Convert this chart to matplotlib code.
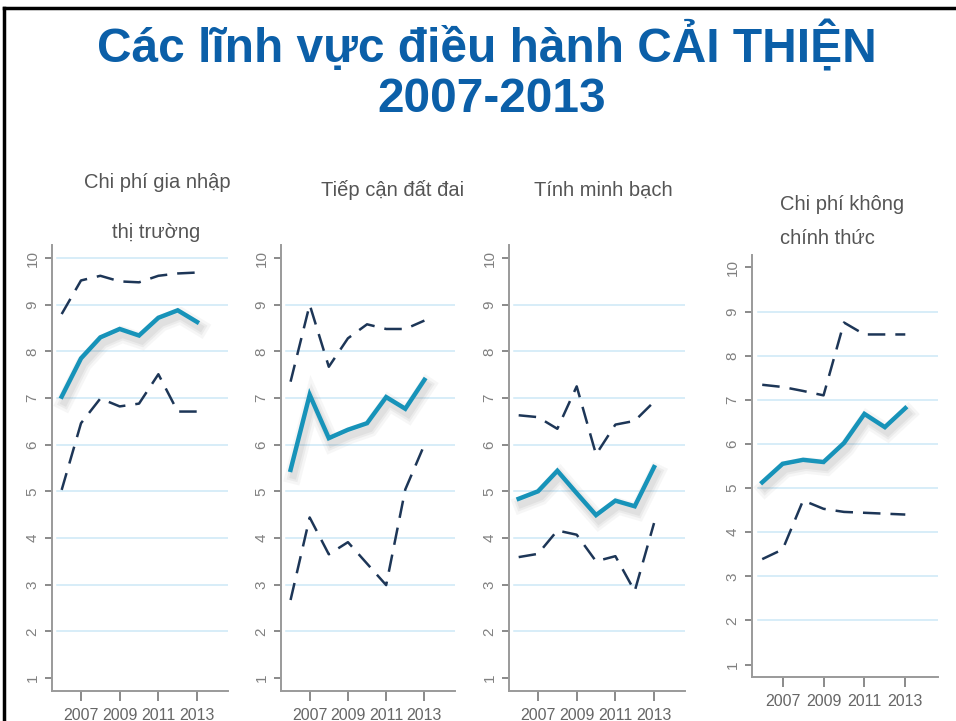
import matplotlib
matplotlib.use("Agg")
import matplotlib.pyplot as plt
import matplotlib.patheffects as pe
from matplotlib.lines import Line2D

years = [2006, 2007, 2008, 2009, 2010, 2011, 2012, 2013]
year_ticks = [2007, 2009, 2011, 2013]
y_ticks = [1, 2, 3, 4, 5, 6, 7, 8, 9, 10]

entry_upper = [8.80, 9.52, 9.62, 9.50, 9.48, 9.62, 9.67, 9.69]
entry_main = [7.03, 7.85, 8.30, 8.48, 8.34, 8.72, 8.88, 8.63]
entry_lower = [5.03, 6.46, 6.99, 6.82, 6.88, 7.51, 6.71, 6.71]

land_upper = [7.35, 9.00, 7.67, 8.28, 8.58, 8.48, 8.48, 8.66]
land_main = [5.46, 7.07, 6.14, 6.32, 6.46, 7.02, 6.77, 7.39]
land_lower = [2.67, 4.44, 3.65, 3.91, 3.45, 2.99, 5.04, 6.00]

trans_upper = [6.63, 6.59, 6.34, 7.25, 5.79, 6.43, 6.51, 6.92]
trans_main = [4.84, 5.00, 5.44, 4.96, 4.49, 4.80, 4.68, 5.52]
trans_lower = [3.59, 3.66, 4.16, 4.07, 3.50, 3.61, 2.86, 4.32]

informal_upper = [7.34, 7.29, 7.20, 7.10, 8.75, 8.48, 8.48, 8.48]
informal_main = [5.13, 5.55, 5.64, 5.59, 6.02, 6.68, 6.38, 6.81]
informal_lower = [3.39, 3.61, 4.72, 4.53, 4.46, 4.44, 4.42, 4.40]

title_line1 = "Các lĩnh vực điều hành CẢI THIỆN"
title_line2 = "2007-2013"

W, H = 956, 721
fig = plt.figure(figsize=(W / 100, H / 100), dpi=100)
fig.patch.set_facecolor("white")

NARROW = ["Liberation Sans Narrow", "Liberation Sans", "DejaVu Sans"]
TEAL = "#1793b9"
NAVY = "#1d3657"
GRID = "#cde8f6"
SPINE = "#9a9a9a"

def px(x, y):
    return x / W, 1 - y / H

panels = [
    dict(box=(52, 228, 245, 691), up=entry_upper, main=entry_main, lo=entry_lower, grid10=True),
    dict(box=(281, 455, 245, 691), up=land_upper, main=land_main, lo=land_lower, grid10=False),
    dict(box=(509, 685, 245, 691), up=trans_upper, main=trans_main, lo=trans_lower, grid10=False),
    dict(box=(752, 938, 255, 677), up=informal_upper, main=informal_main, lo=informal_lower, grid10=False),
]

shadow = [
    pe.SimpleLineShadow(offset=(2, -4), shadow_color="#606060", alpha=0.05, linewidth=12),
    pe.SimpleLineShadow(offset=(2, -4), shadow_color="#606060", alpha=0.07, linewidth=8),
    pe.SimpleLineShadow(offset=(2, -4), shadow_color="#606060", alpha=0.08, linewidth=5),
    pe.Normal(),
]

for p in panels:
    l, r, t, b = p["box"]
    ax = fig.add_axes([l / W, 1 - b / H, (r - l) / W, (b - t) / H])
    ax.set_xlim(2005.5, 2014.6)
    ax.set_ylim(0.72, 10.28)
    gl = [2, 3, 4, 5, 6, 7, 8, 9] + ([10] if p["grid10"] else [])
    for g in gl:
        ax.axhline(g, xmin=0.03, xmax=1.0, color=GRID, lw=1.1, zorder=0)
    ax.plot(years, p["up"], color=NAVY, lw=1.8, dashes=(7, 4), zorder=3)
    ax.plot(years, p["lo"], color=NAVY, lw=1.8, dashes=(7, 4), zorder=3)
    ax.plot(years, p["main"], color=TEAL, lw=3.2, solid_joinstyle="miter", zorder=4,
            path_effects=shadow)
    for s in ["top", "right"]:
        ax.spines[s].set_visible(False)
    for s in ["left", "bottom"]:
        ax.spines[s].set_color(SPINE)
        ax.spines[s].set_linewidth(1.4)
    ax.set_xticks(year_ticks)
    ax.set_xticklabels([str(y) for y in year_ticks], fontfamily=NARROW, fontsize=11.5, color="#666666")
    ax.set_yticks(y_ticks)
    ax.set_yticklabels([str(v) for v in y_ticks], fontfamily=NARROW, fontsize=11, color="#808080",
                       rotation=90, va="center")
    ax.tick_params(axis="x", length=7, width=1.2, color="#777777", pad=5)
    ax.tick_params(axis="y", length=5, width=1.2, color="#777777", pad=4)
    ax.set_facecolor("none")

tcol = "#555555"
fs = 14.5
fig.text(*px(157, 183), "Chi phí gia nhập", ha="center", va="center", fontsize=fs, color=tcol, family=NARROW)
fig.text(*px(156, 232), "thị trường", ha="center", va="center", fontsize=fs, color=tcol, family=NARROW)
fig.text(*px(393, 190), "Tiếp cận đất đai", ha="center", va="center", fontsize=fs, color=tcol, family=NARROW)
fig.text(*px(603, 190), "Tính minh bạch", ha="center", va="center", fontsize=fs, color=tcol, family=NARROW)
fig.text(*px(780, 205), "Chi phí không", ha="left", va="center", fontsize=fs, color=tcol, family=NARROW)
fig.text(*px(780, 238), "chính thức", ha="left", va="center", fontsize=fs, color=tcol, family=NARROW)

blue = "#0b5fa8"
fig.text(*px(487, 46), title_line1, ha="center", va="center", fontsize=34.5, fontweight="bold",
         color=blue, family=NARROW)
fig.text(*px(492, 100), title_line2, ha="center", va="center", fontsize=34.5, fontweight="bold",
         color=blue, family=NARROW)

fig.add_artist(Line2D([4 / W, 4 / W], [0, 1 - 8 / H], color="black", lw=2.5, transform=fig.transFigure))
fig.add_artist(Line2D([4 / W, 1], [1 - 8 / H, 1 - 8 / H], color="black", lw=2.5, transform=fig.transFigure))

fig.savefig("out.png", dpi=100)
